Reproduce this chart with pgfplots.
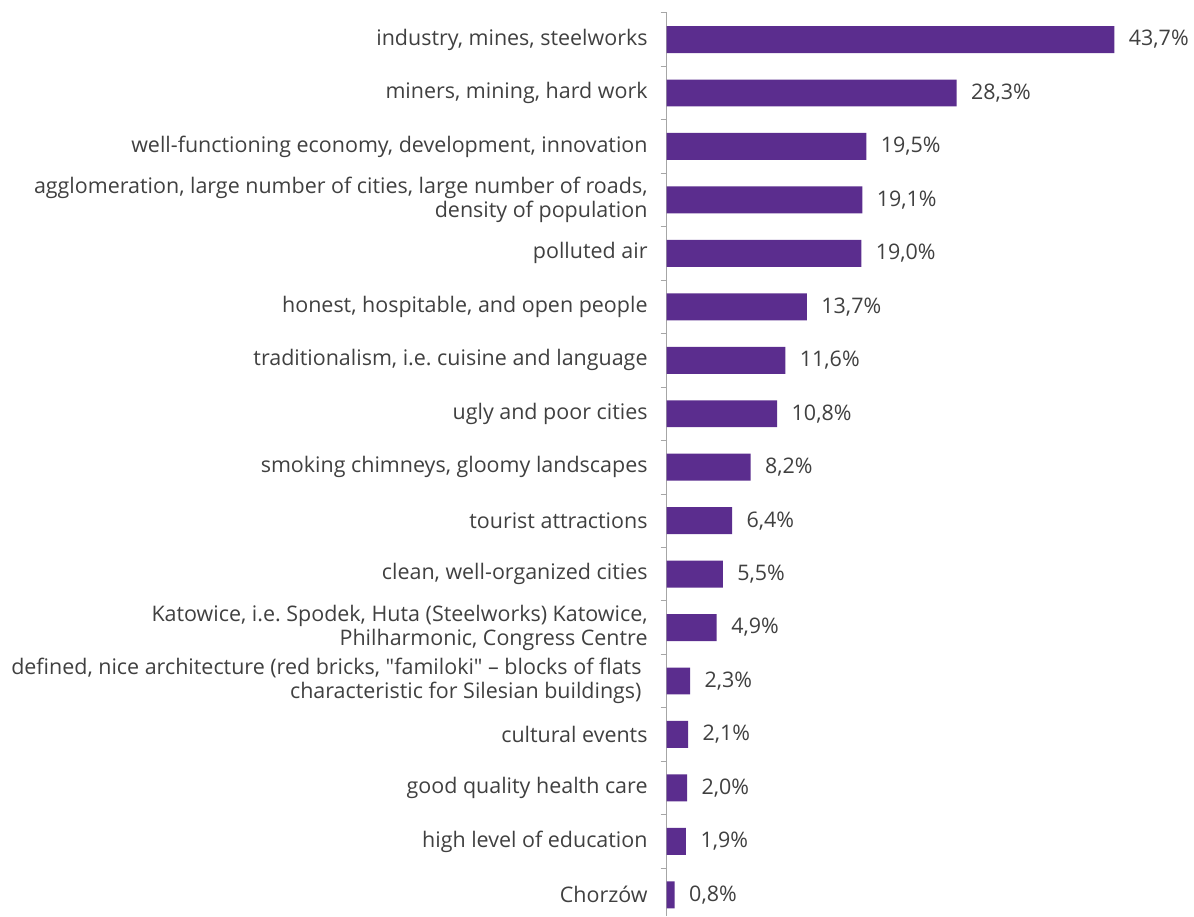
\documentclass[border=0pt]{standalone}
\usepackage{fontspec}
\setmainfont{Open Sans}[Ligatures=TeXOff]
\usepackage{pgfplots}
\pgfplotsset{compat=1.18}
\usepackage{pgfplotstable}
\definecolor{barpurple}{HTML}{5B2D8E}
\definecolor{txt}{HTML}{404040}
\definecolor{axgray}{HTML}{A6A6A6}
\frenchspacing

\pgfplotstableread[col sep=comma]{
pos,val
0,43.7
1,28.3
2,19.5
3,19.1
4,19.0
5,13.7
6,11.6
7,10.8
8,8.2
9,6.4
10,5.5
11,4.9
12,2.3
13,2.1
14,2.0
15,1.9
16,0.8
}\answers

\begin{document}
\begin{tikzpicture}
\begin{axis}[
  x=10.27pt, y=53.56pt,
  y dir=reverse,
  xmin=0, xmax=44,
  ymin=-0.5, ymax=16.4,
  axis x line=none,
  axis y line*=left,
  y axis line style={axgray, line width=0.8pt},
  ytick={0,...,16},
  major tick length=0pt,
  minor ytick={-0.5,0.5,...,15.5},
  minor tick length=6pt,
  tick align=outside,
  minor tick style={axgray, line width=0.8pt},
  yticklabels={
    {industry, mines, steelworks},
    {miners, mining, hard work},
    {well-functioning economy, development, innovation},
    {agglomeration, large number of cities, large number of roads,\\density of population},
    {polluted air},
    {honest, hospitable, and open people},
    {traditionalism, i.e. cuisine and language},
    {ugly and poor cities},
    {smoking chimneys, gloomy landscapes},
    {tourist attractions},
    {clean, well-organized cities},
    {Katowice, i.e. Spodek, Huta (Steelworks) Katowice,\\Philharmonic, Congress Centre},
    {defined, nice architecture (red bricks, "familoki" – blocks of flats\kern6pt\\characteristic for Silesian buildings)\kern6pt},
    {cultural events},
    {good quality health care},
    {high level of education},
    {Chorzów}},
  yticklabel style={align=right, text=txt, font=\fontsize{21.5}{24}\selectfont, xshift=-15.5pt},
  clip=false,
  /pgf/number format/assume math mode=true,
  nodes near coords={\pgfmathprintnumber[fixed,fixed zerofill,precision=1,use comma,assume math mode=true]{\pgfplotspointmeta}\%},
  nodes near coords style={anchor=west, text=txt, font=\fontsize{21.5}{24}\selectfont, xshift=11pt},
  point meta=explicit,
]
\addplot[xbar, bar width=27pt, fill=barpurple, draw=none, bar shift=0pt]
  table[x=val, y=pos, meta=val] {\answers};
\path (axis cs:0,-0.74) (axis cs:0,16.4);
\end{axis}
\path (current bounding box.west) ++(-8pt,0) (current bounding box.east) ++(2pt,0);
\end{tikzpicture}
\end{document}
